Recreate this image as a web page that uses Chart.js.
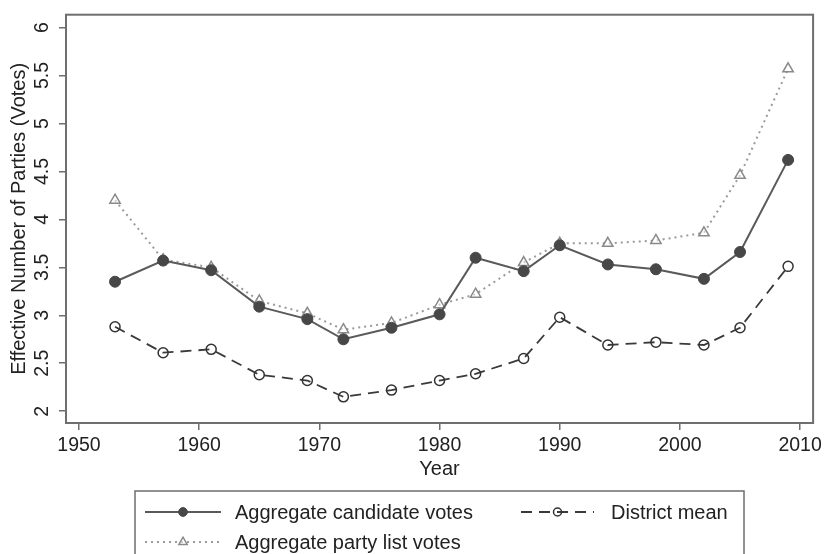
<!DOCTYPE html>
<html>
<head>
<meta charset="utf-8">
<script src="https://cdn.jsdelivr.net/npm/chart.js@4"></script>
<style>
  html,body{margin:0;padding:0;background:#fff;}
  #wrap{width:826px;height:554px;}
</style>
</head>
<body>
<div id="wrap"><canvas id="c" width="826" height="554"></canvas></div>
<script>
const YEARS = [1953,1957,1961,1965,1969,1972,1976,1980,1983,1987,1990,1994,1998,2002,2005,2009];
const CANDIDATE = [3.35,3.57,3.47,3.09,2.96,2.75,2.87,3.01,3.60,3.46,3.73,3.53,3.48,3.38,3.66,4.62];
const PARTY_LIST = [4.20,3.58,3.50,3.15,3.02,2.85,2.92,3.11,3.22,3.55,3.75,3.75,3.78,3.86,4.46,5.57];
const DISTRICT = [2.88,2.61,2.645,2.38,2.32,2.15,2.22,2.32,2.39,2.55,2.98,2.69,2.72,2.69,2.87,3.51];
const X_TICKS = [1950,1960,1970,1980,1990,2000,2010];
const Y_TICKS = [2,2.5,3,3.5,4,4.5,5,5.5,6];
const LABELS = ['Aggregate candidate votes','Aggregate party list votes','District mean'];

const FONT = '"Liberation Sans", Arial, Helvetica, sans-serif';
const FRAME = '#6e6e6e';
const pts = arr => YEARS.map((y,i)=>({x:y, y:arr[i]}));

const FramePlugin = {
  id:'frame',
  afterDraw(chart){
    const {left, top, right, bottom} = chart.chartArea;
    const ctx = chart.ctx;
    ctx.save();
    ctx.strokeStyle = FRAME; ctx.lineWidth = 2;
    ctx.strokeRect(left, top, right-left, bottom-top);
    ctx.restore();
  }
};

// stata-like legend box under the plot, two columns
const BoxLegend = {
  id:'boxLegend',
  afterDraw(chart){
    const ctx = chart.ctx;
    const slots = [{x0:145,x1:221,tx:235,y:512},{x0:145,x1:221,tx:235,y:542},{x0:521,x1:594,tx:611,y:512}];
    ctx.save();
    ctx.strokeStyle = FRAME; ctx.lineWidth = 1.5;
    ctx.strokeRect(135, 491, 609, 120);
    chart.data.datasets.forEach((ds,i)=>{
      const s = slots[i];
      ctx.save();
      ctx.strokeStyle = ds.borderColor; ctx.lineWidth = ds.borderWidth;
      ctx.setLineDash(ds.borderDash || []);
      ctx.beginPath(); ctx.moveTo(s.x0, s.y); ctx.lineTo(s.x1, s.y); ctx.stroke();
      ctx.setLineDash([]);
      ctx.fillStyle = ds.pointBackgroundColor; ctx.strokeStyle = ds.pointBorderColor; ctx.lineWidth = ds.pointBorderWidth;
      Chart.helpers.drawPoint(ctx, {pointStyle:ds.pointStyle, radius:ds.pointRadius*0.8, borderWidth:ds.pointBorderWidth, rotation:0}, (s.x0+s.x1)/2, s.y);
      ctx.restore();
      ctx.fillStyle = '#222'; ctx.font = '20px '+FONT;
      ctx.textAlign = 'left'; ctx.textBaseline = 'middle';
      ctx.fillText(ds.label, s.tx, s.y+1);
    });
    ctx.restore();
  }
};

new Chart(document.getElementById('c').getContext('2d'), {
  type:'line',
  data:{datasets:[
    {label:LABELS[0], data:pts(CANDIDATE), borderColor:'#5a5a5a', borderWidth:2, borderDash:[],
     pointStyle:'circle', pointRadius:5.5, pointBackgroundColor:'#474747', pointBorderColor:'#474747', pointBorderWidth:1, tension:0},
    {label:LABELS[1], data:pts(PARTY_LIST), borderColor:'#9a9a9a', borderWidth:2, borderDash:[2,4],
     pointStyle:'triangle', pointRadius:6, pointBackgroundColor:'rgba(255,255,255,0.5)', pointBorderColor:'#8a8a8a', pointBorderWidth:1.5, tension:0},
    {label:LABELS[2], data:pts(DISTRICT), borderColor:'#3a3a3a', borderWidth:1.8, borderDash:[11,7],
     pointStyle:'circle', pointRadius:5, pointBackgroundColor:'rgba(0,0,0,0)', pointBorderColor:'#333', pointBorderWidth:1.5, tension:0}
  ]},
  options:{
    responsive:false, animation:false,
    layout:{padding:{top:12, right:11, left:0, bottom:71}},
    plugins:{legend:{display:false}, tooltip:{enabled:false}},
    scales:{
      x:{type:'linear', min:1948.92, max:2011.08,
        afterBuildTicks:s=>{ s.ticks = X_TICKS.map(v=>({value:v})); },
        afterFit:s=>{ s.height = 60; },
        border:{display:false},
        grid:{display:true, drawOnChartArea:false, drawTicks:true, tickLength:7, color:FRAME, lineWidth:1.5},
        ticks:{color:'#222', font:{family:FONT, size:19.5}, padding:4, maxRotation:0, autoSkip:false,
          callback:v=>String(v)},
        title:{display:true, text:'Year', color:'#222', font:{family:FONT, size:20}, padding:{top:0, bottom:2}}
      },
      y:{type:'linear', min:1.877, max:6.134,
        afterBuildTicks:s=>{ s.ticks = Y_TICKS.map(v=>({value:v})); },
        afterFit:s=>{ s.width = 66; },
        border:{display:false},
        grid:{display:true, drawOnChartArea:false, drawTicks:true, tickLength:7, color:FRAME, lineWidth:1.5},
        ticks:{color:'#222', font:{family:FONT, size:19.5}, padding:3, minRotation:90, maxRotation:90, crossAlign:'center', autoSkip:false,
          callback:v=>String(v)},
        title:{display:true, text:'Effective Number of Parties (Votes)', color:'#222', font:{family:FONT, size:20}, padding:{top:7, bottom:0}}
      }
    }
  },
  plugins:[FramePlugin, BoxLegend]
});
</script>
</body>
</html>
